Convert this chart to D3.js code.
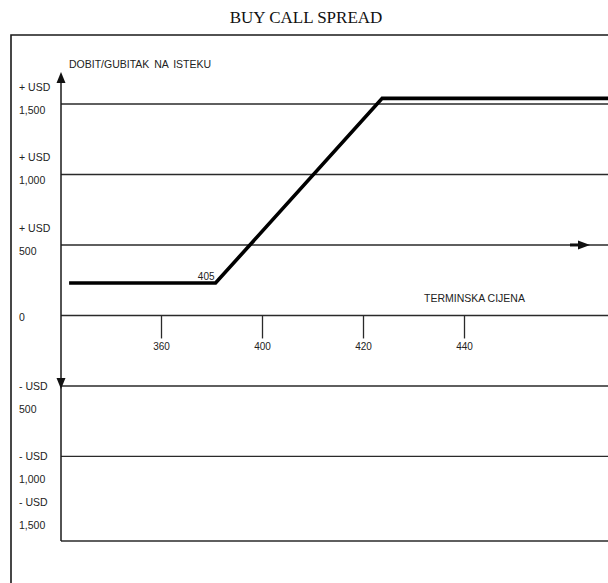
<!DOCTYPE html>
<html>
<head>
<meta charset="utf-8">
<script src="https://cdn.jsdelivr.net/npm/d3@7"></script>
<style>
  body { margin: 0; background: #fff; }
  svg text { font-family: 'Liberation Sans', Arial, sans-serif; fill: #222; }
</style>
</head>
<body>
<div id="chart"></div>
<script>
// data
// the price axis is schematic: the ticks are evenly spaced, so payoff x values
// are given in tick-index units (0 = first tick, 1 = second tick ...)
var xTickLabels = ['360', '400', '420', '440']
var payoffX = [-0.91, 0.54, 2.19, 4.6]
var payoffY = [230, 230, 1540, 1540]
var strikeLabel = '405'

var gridValues = [1500, 1000, 500, 0, -500, -1000]
var yLabelValues = [1500, 1000, 500, 0, -500, -1000, -1500]
var yLabelSign = ['+ USD', '+ USD', '+ USD', '', '- USD', '- USD', '- USD']
var yLabelNumber = ['1,500', '1,000', '500', '0', '500', '1,000', '1,500']
var yBottom = -1600

var width = 608
var height = 583

var svg = d3.select('#chart')
  .append('svg')
  .attr('width', width)
  .attr('height', height)

// scales
var xScale = d3.scaleLinear().domain([0, xTickLabels.length - 1]).range([161, 464])
var xPoint = d3.scalePoint().domain(xTickLabels).range([161, 464])
var yScale = d3.scaleLinear().domain([yBottom, 1500]).range([541, 104])
var axisX = 61

// title
svg.append('text')
  .attr('x', 306)
  .attr('y', 23)
  .attr('text-anchor', 'middle')
  .style('font-family', "'Liberation Serif', 'Times New Roman', serif")
  .style('font-size', '17px')
  .style('fill', '#111')
  .text('BUY CALL SPREAD')

// outer frame (left + top, right/bottom cut off by the scan)
svg.append('path')
  .attr('d', 'M11,' + height + 'V35H' + width)
  .attr('fill', 'none')
  .attr('stroke', '#1a1a1a')
  .attr('stroke-width', 1.6)

// horizontal grid lines
svg.append('g')
  .selectAll('line')
  .data(gridValues)
  .enter()
  .append('line')
  .attr('x1', axisX)
  .attr('x2', width)
  .attr('y1', function (d) { return yScale(d) })
  .attr('y2', function (d) { return yScale(d) })
  .attr('stroke', '#2a2a2a')
  .attr('stroke-width', 1.4)

// bottom line of the lower box
svg.append('line')
  .attr('x1', axisX)
  .attr('x2', width)
  .attr('y1', yScale(yBottom))
  .attr('y2', yScale(yBottom))
  .attr('stroke', '#2a2a2a')
  .attr('stroke-width', 1.4)

// vertical axis
var axisTop = yScale(1500) - 32
svg.append('line')
  .attr('x1', axisX)
  .attr('x2', axisX)
  .attr('y1', axisTop + 6)
  .attr('y2', yScale(yBottom))
  .attr('stroke', '#1a1a1a')
  .attr('stroke-width', 1.5)

// arrow heads
function arrow (x, y, dir) {
  var p
  if (dir === 'up') p = [[x, y], [x - 4.5, y + 11], [x + 4.5, y + 11]]
  if (dir === 'down') p = [[x, y], [x - 4.5, y - 11], [x + 4.5, y - 11]]
  if (dir === 'right') p = [[x, y], [x - 12, y - 4.5], [x - 12, y + 4.5]]
  svg.append('path')
    .attr('d', 'M' + p.join('L') + 'Z')
    .attr('fill', '#111')
}
arrow(axisX, axisTop, 'up')
arrow(axisX, yScale(-500) + 3, 'down')
svg.append('line')
  .attr('x1', 570)
  .attr('x2', 580)
  .attr('y1', yScale(500))
  .attr('y2', yScale(500))
  .attr('stroke', '#111')
  .attr('stroke-width', 3)
arrow(590, yScale(500), 'right')

// y axis title
svg.append('text')
  .attr('x', 69)
  .attr('y', 68)
  .style('font-size', '10.5px')
  .style('word-spacing', '2px')
  .text('DOBIT/GUBITAK  NA  ISTEKU')

// y labels: sign line + number line
var yLabels = svg.append('g')
yLabelValues.forEach(function (v, i) {
  var y = yScale(v)
  var signY, numY
  if (v > 0) {
    signY = y - 17
    numY = y + 6
  } else if (v === 0) {
    numY = y + 2
  } else if (gridValues.indexOf(v) >= 0) {
    signY = y
    numY = y + 23
  } else {
    signY = y - 25
    numY = y - 2
  }
  if (yLabelSign[i]) {
    yLabels.append('text')
      .attr('x', 19)
      .attr('y', signY)
      .attr('dy', '0.36em')
      .style('font-size', '10.5px')
      .text(yLabelSign[i])
  }
  yLabels.append('text')
    .attr('x', 19)
    .attr('y', numY)
    .attr('dy', '0.36em')
    .style('font-size', '10.5px')
    .text(yLabelNumber[i])
})

// x ticks hanging below the zero line
var gx = svg.append('g')
  .attr('transform', 'translate(0,' + yScale(0) + ')')
  .call(d3.axisBottom(xPoint).tickSize(23).tickPadding(4))
gx.select('.domain').remove()
gx.selectAll('line').attr('stroke', '#2a2a2a').attr('stroke-width', 1.3)
gx.selectAll('text')
  .style('font-size', '10px')
  .style('font-family', "'Liberation Sans', Arial, sans-serif")
  .attr('fill', '#222')

// x axis title
svg.append('text')
  .attr('x', 424)
  .attr('y', yScale(0) - 17)
  .attr('dy', '0.36em')
  .style('font-size', '10.5px')
  .text('TERMINSKA CIJENA')

// payoff line
var payoff = payoffX.map(function (x, i) { return { x: x, y: payoffY[i] } })
var line = d3.line()
  .x(function (d) { return xScale(d.x) })
  .y(function (d) { return yScale(d.y) })
svg.append('path')
  .datum(payoff)
  .attr('d', line)
  .attr('fill', 'none')
  .attr('stroke', '#000')
  .attr('stroke-width', 3.6)
  .attr('stroke-linejoin', 'miter')

// strike label at the lower kink
svg.append('text')
  .attr('x', xScale(payoffX[1]) - 1)
  .attr('y', yScale(payoffY[1]) - 7)
  .attr('dy', '0.36em')
  .attr('text-anchor', 'end')
  .style('font-size', '10px')
  .text(strikeLabel)
</script>
</body>
</html>
